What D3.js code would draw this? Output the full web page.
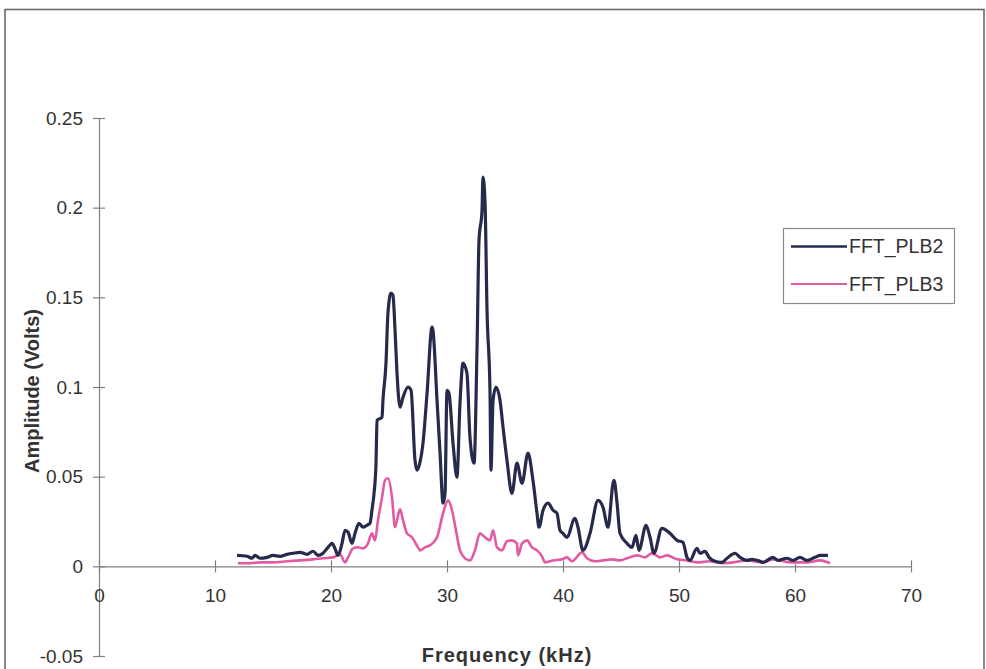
<!DOCTYPE html>
<html>
<head>
<meta charset="utf-8">
<script src="https://cdn.jsdelivr.net/npm/d3@7/dist/d3.min.js"></script>
<style>
  html, body { margin: 0; padding: 0; background: #fff; }
  svg { display: block; font-family: "Liberation Sans", Arial, sans-serif; }
</style>
</head>
<body>
<svg id="chart" width="986" height="669"></svg>
<script>
// FFT amplitude spectra of two pencil-lead-break signals
const plb2Freq = [11.90,12.76,13.19,13.45,13.88,14.48,15.00,15.60,16.21,16.72,17.33,17.93,18.45,18.88,19.31,19.74,20.09,20.34,20.60,20.95,21.21,21.47,21.81,22.07,22.41,22.76,23.10,23.36,23.53,23.71,23.88,23.97,24.40,24.48,24.74,24.91,25.17,25.34,25.52,25.69,25.95,26.21,26.64,26.90,27.24,27.41,27.67,27.93,28.28,28.71,28.79,29.14,29.40,29.66,29.83,30.00,30.17,30.52,30.86,31.12,31.38,31.72,31.98,32.33,32.59,32.76,33.02,33.10,33.28,33.45,33.71,33.79,33.97,34.22,34.57,34.83,35.17,35.60,36.03,36.47,36.98,37.41,37.76,37.93,38.28,38.71,39.14,39.48,39.74,40.00,40.34,41.03,41.29,41.72,42.33,43.02,43.45,43.88,44.31,44.40,44.66,44.91,45.52,45.95,46.29,46.55,47.16,47.50,47.84,48.53,49.22,49.83,50.34,50.69,50.95,51.55,51.81,52.24,52.59,52.93,53.71,54.14,54.83,55.26,55.86,56.29,56.98,57.24,58.10,58.53,59.31,59.83,60.43,61.03,61.72,62.16,62.84];
const plb2Amp = [0.0061,0.0056,0.0045,0.0061,0.0045,0.0050,0.0061,0.0056,0.0067,0.0073,0.0078,0.0067,0.0084,0.0061,0.0073,0.0106,0.0128,0.0100,0.0061,0.0128,0.0201,0.0190,0.0128,0.0184,0.0240,0.0218,0.0229,0.0240,0.0313,0.0407,0.0575,0.0815,0.0831,0.0926,0.1133,0.1412,0.1523,0.1512,0.1317,0.1077,0.0887,0.0943,0.0999,0.0982,0.0592,0.0536,0.0580,0.0686,0.0965,0.1334,0.1317,0.0926,0.0631,0.0352,0.0407,0.0982,0.0965,0.0686,0.0497,0.0910,0.1133,0.1077,0.0720,0.0575,0.1222,0.1819,0.1987,0.2171,0.2026,0.1429,0.0965,0.0536,0.0926,0.0999,0.0926,0.0776,0.0592,0.0407,0.0575,0.0463,0.0631,0.0480,0.0296,0.0218,0.0313,0.0352,0.0313,0.0296,0.0201,0.0184,0.0162,0.0268,0.0218,0.0089,0.0184,0.0368,0.0329,0.0218,0.0463,0.0480,0.0352,0.0184,0.0128,0.0106,0.0173,0.0089,0.0229,0.0162,0.0073,0.0212,0.0184,0.0145,0.0134,0.0050,0.0033,0.0100,0.0073,0.0084,0.0050,0.0033,0.0022,0.0045,0.0073,0.0050,0.0033,0.0039,0.0028,0.0022,0.0050,0.0033,0.0045,0.0033,0.0050,0.0033,0.0050,0.0061,0.0061];

const plb3Freq = [11.98,13.02,13.88,15.00,16.21,17.33,18.45,19.31,20.17,20.78,21.21,21.47,21.90,22.33,22.76,23.19,23.53,23.79,24.05,24.40,24.66,24.91,25.26,25.52,25.69,25.95,26.21,26.55,26.98,27.50,27.67,28.10,28.53,29.14,29.66,30.09,30.43,30.69,31.12,31.55,31.98,32.41,32.84,33.28,33.71,33.97,34.31,34.74,35.17,35.60,36.03,36.12,36.47,36.90,37.33,37.76,38.19,38.45,39.14,39.91,40.34,40.78,41.64,42.07,42.76,43.45,44.22,44.91,45.52,46.38,47.07,47.67,48.36,48.97,49.83,50.69,51.55,52.67,53.71,54.66,55.86,57.24,58.10,59.57,61.03,62.16,63.02];
const plb3Amp = [0.0017,0.0017,0.0022,0.0022,0.0028,0.0033,0.0039,0.0045,0.0050,0.0067,0.0022,0.0050,0.0100,0.0106,0.0100,0.0128,0.0184,0.0145,0.0257,0.0385,0.0480,0.0491,0.0385,0.0218,0.0257,0.0318,0.0257,0.0184,0.0162,0.0106,0.0089,0.0106,0.0117,0.0162,0.0296,0.0368,0.0313,0.0229,0.0089,0.0045,0.0033,0.0089,0.0184,0.0162,0.0145,0.0201,0.0106,0.0089,0.0140,0.0145,0.0128,0.0061,0.0128,0.0145,0.0106,0.0089,0.0056,0.0022,0.0033,0.0039,0.0050,0.0028,0.0078,0.0045,0.0028,0.0033,0.0039,0.0033,0.0045,0.0061,0.0050,0.0073,0.0050,0.0061,0.0039,0.0033,0.0022,0.0028,0.0017,0.0022,0.0033,0.0022,0.0039,0.0022,0.0022,0.0033,0.0017];

const xTicks = [0, 10, 20, 30, 40, 50, 60, 70];
const yTicks = [-0.05, 0, 0.05, 0.1, 0.15, 0.2, 0.25];
const yTickLabels = ["-0.05", "0", "0.05", "0.1", "0.15", "0.2", "0.25"];
const seriesNames = ["FFT_PLB2", "FFT_PLB3"];
const seriesColors = ["#262a4c", "#e25aa2"];

const svg = d3.select("#chart");

// outer chart border
svg.append("rect")
  .attr("x", 5).attr("y", 9.5)
  .attr("width", 979).attr("height", 680)
  .attr("fill", "none").attr("stroke", "#6a6a6a").attr("stroke-width", 1.6);

const x = d3.scaleLinear().domain([0, 70]).range([99, 911]);
const y = d3.scaleLinear().domain([-0.05, 0.25]).range([656, 118]);

const axisColor = "#808080";
const labelColor = "#333";

// y axis (crossing tick marks)
const yAxis = svg.append("g")
  .attr("transform", `translate(${x(0)},0)`)
  .call(d3.axisLeft(y).tickValues(yTicks).tickSizeInner(6).tickSizeOuter(0).tickPadding(10)
    .tickFormat((d, i) => yTickLabels[i]));
yAxis.selectAll("line").attr("x1", 6);

// x axis at zero amplitude
const xAxis = svg.append("g")
  .attr("transform", `translate(0,${y(0)})`)
  .call(d3.axisBottom(x).tickValues(xTicks).tickSizeInner(6).tickSizeOuter(0).tickPadding(16)
    .tickFormat(d => String(d)));
xAxis.selectAll("line").attr("y1", -6);

[yAxis, xAxis].forEach(g => {
  g.select(".domain").attr("stroke", axisColor).attr("stroke-width", 1.2);
  g.selectAll(".tick line").attr("stroke", axisColor).attr("stroke-width", 1.2);
  g.selectAll("text").attr("fill", labelColor).style("font-size", "19px")
    .style("font-family", "'Liberation Sans', Arial, sans-serif");
});

// spectra
const series = [
  { name: seriesNames[0], color: seriesColors[0], width: 3.2, f: plb2Freq, a: plb2Amp },
  { name: seriesNames[1], color: seriesColors[1], width: 2.6, f: plb3Freq, a: plb3Amp }
];
const line = d3.line()
  .x(d => x(d[0])).y(d => y(d[1]))
  .curve(d3.curveMonotoneX);

series.slice().reverse().forEach(s => {
  svg.append("path")
    .datum(s.f.map((f, i) => [f, s.a[i]]))
    .attr("d", line)
    .attr("fill", "none")
    .attr("stroke", s.color)
    .attr("stroke-width", s.width)
    .attr("stroke-linejoin", "round");
});

// axis titles
svg.append("text")
  .attr("transform", `translate(39,${(y(0.25) + y(-0.05)) / 2 + 4}) rotate(-90)`)
  .attr("text-anchor", "middle")
  .attr("fill", labelColor)
  .style("font-size", "20px").style("font-weight", "bold")
  .text("Amplitude (Volts)");

svg.append("text")
  .attr("x", (x(0) + x(70)) / 2 + 2).attr("y", 662)
  .attr("text-anchor", "middle")
  .attr("fill", labelColor)
  .style("font-size", "20px").style("font-weight", "bold").style("letter-spacing", "1px")
  .text("Frequency (kHz)");

// legend
const legend = svg.append("g");
legend.append("rect")
  .attr("x", 783.5).attr("y", 228.5).attr("width", 171).attr("height", 75)
  .attr("fill", "#fff").attr("stroke", "#8a8a8a").attr("stroke-width", 1.2);
series.forEach((s, i) => {
  const ly = 246.5 + i * 37.5;
  legend.append("line")
    .attr("x1", 791).attr("x2", 847).attr("y1", ly).attr("y2", ly)
    .attr("stroke", s.color).attr("stroke-width", s.width - 0.8);
  legend.append("text")
    .attr("x", 849).attr("y", ly + 6.5)
    .attr("fill", labelColor)
    .style("font-size", "19.5px")
    .text(s.name);
});
</script>
</body>
</html>
